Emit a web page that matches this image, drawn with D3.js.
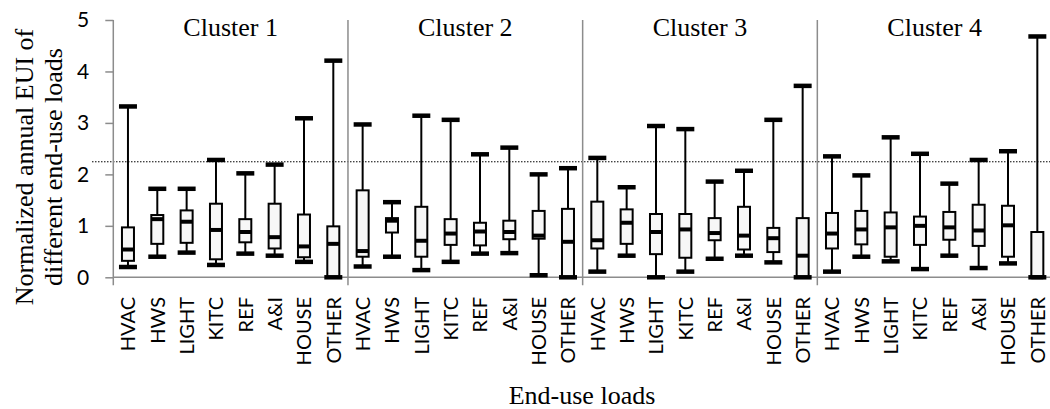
<!DOCTYPE html>
<html><head><meta charset="utf-8">
<script src="https://cdn.jsdelivr.net/npm/d3@7"></script>
<style>html,body{margin:0;padding:0;background:#fff;}svg{display:block;}</style>
</head><body>
<svg id="chart" width="1050" height="409"></svg>
<script>
const clusters = ["Cluster 1", "Cluster 2", "Cluster 3", "Cluster 4"];
const categories = ["HVAC", "HWS", "LIGHT", "KITC", "REF", "A&I", "HOUSE", "OTHER"];
const yTicks = [0, 1, 2, 3, 4, 5];
const refLine = 2.245;
// per cluster, per category
const maxVals = [
  [3.32, 1.72, 1.72, 2.28, 2.02, 2.19, 3.09, 4.21],
  [2.97, 1.46, 3.14, 3.06, 2.39, 2.52, 2.00, 2.12],
  [2.32, 1.75, 2.94, 2.88, 1.86, 2.07, 3.06, 3.72],
  [2.35, 1.98, 2.72, 2.40, 1.82, 2.28, 2.45, 4.68]
];
const q3Vals = [
  [0.97, 1.21, 1.30, 1.43, 1.13, 1.43, 1.22, 0.99],
  [1.69, 1.15, 1.37, 1.13, 1.06, 1.10, 1.29, 1.33],
  [1.47, 1.32, 1.23, 1.23, 1.15, 1.37, 0.96, 1.15],
  [1.25, 1.29, 1.26, 1.18, 1.27, 1.41, 1.39, 0.88]
];
const medVals = [
  [0.54, 1.13, 1.08, 0.92, 0.88, 0.78, 0.60, 0.65],
  [0.51, 1.10, 0.71, 0.85, 0.89, 0.88, 0.81, 0.69],
  [0.72, 1.06, 0.88, 0.93, 0.86, 0.81, 0.76, 0.42],
  [0.85, 0.93, 0.97, 1.00, 0.97, 0.91, 1.01, 0.00]
];
const q1Vals = [
  [0.32, 0.65, 0.67, 0.35, 0.68, 0.56, 0.39, 0.00],
  [0.40, 0.87, 0.40, 0.63, 0.62, 0.74, 0.75, 0.00],
  [0.56, 0.65, 0.45, 0.38, 0.72, 0.54, 0.49, 0.00],
  [0.56, 0.64, 0.40, 0.63, 0.73, 0.61, 0.40, 0.00]
];
const minVals = [
  [0.20, 0.40, 0.48, 0.24, 0.46, 0.42, 0.30, 0.00],
  [0.21, 0.40, 0.14, 0.30, 0.46, 0.47, 0.04, 0.00],
  [0.11, 0.42, 0.00, 0.11, 0.36, 0.42, 0.29, 0.00],
  [0.11, 0.40, 0.31, 0.16, 0.42, 0.18, 0.27, 0.00]
];

const svg = d3.select("#chart");
const plotL = 113.3, plotR = 1052, plotT = 20, plotB = 277.3;
const axisColor = "#8c8c8c";

const xC = d3.scaleBand().domain(clusters).range([plotL, plotR]).padding(0);
const xK = d3.scaleBand().domain(categories).range([0, xC.bandwidth()]).padding(0);
const y = d3.scaleLinear().domain([0, 5]).range([plotB, plotT]);

// reference dotted line
svg.append("line")
  .attr("x1", 92).attr("x2", 1050)
  .attr("y1", y(refLine)).attr("y2", y(refLine))
  .attr("stroke", "#000").attr("stroke-width", 1).attr("stroke-dasharray", "1.5,1.5");

// y axis
const yAxis = d3.axisLeft(y).tickValues(yTicks).tickSize(8).tickPadding(16).tickFormat(d3.format("d"));
const gy = svg.append("g").attr("transform", `translate(${plotL},0)`).call(yAxis);
gy.select(".domain").remove();
gy.selectAll(".tick line").attr("stroke", axisColor).attr("stroke-width", 1.5);
gy.selectAll(".tick text").attr("font-family", "Lato, 'Open Sans', sans-serif").attr("font-size", 21).attr("fill", "#000");
svg.append("line").attr("x1", plotL).attr("x2", plotL).attr("y1", plotT).attr("y2", plotB + 8)
  .attr("stroke", axisColor).attr("stroke-width", 1.5);

// x axis line
svg.append("line").attr("x1", plotL).attr("x2", 1050).attr("y1", plotB).attr("y2", plotB)
  .attr("stroke", axisColor).attr("stroke-width", 1.5);

// cluster separators
clusters.slice(1).forEach(c => {
  svg.append("line").attr("x1", xC(c)).attr("x2", xC(c)).attr("y1", plotT).attr("y2", plotB + 8)
    .attr("stroke", axisColor).attr("stroke-width", 1.5);
});

// cluster titles
svg.selectAll("text.ctitle").data(clusters).enter().append("text")
  .attr("class", "ctitle")
  .attr("x", d => xC(d) + xC.bandwidth() / 2)
  .attr("y", 36)
  .attr("text-anchor", "middle")
  .attr("font-family", "'Liberation Serif', 'Times New Roman', serif")
  .attr("font-size", 26)
  .text(d => d);

const boxW = 12, capW = 18;
clusters.forEach((c, ci) => {
  const g = svg.append("g").attr("transform", `translate(${xC(c)},0)`);
  categories.forEach((k, ki) => {
    const cx = xK(k) + xK.bandwidth() / 2;
    const mx = maxVals[ci][ki], q3 = q3Vals[ci][ki], md = medVals[ci][ki], q1 = q1Vals[ci][ki], mn = minVals[ci][ki];
    g.append("line").attr("x1", cx).attr("x2", cx).attr("y1", y(mx)).attr("y2", y(q3))
      .attr("stroke", "#000").attr("stroke-width", 2);
    g.append("line").attr("x1", cx).attr("x2", cx).attr("y1", y(q1)).attr("y2", y(mn))
      .attr("stroke", "#000").attr("stroke-width", 2);
    g.append("rect").attr("x", cx - boxW / 2).attr("width", boxW)
      .attr("y", y(q3)).attr("height", Math.max(0, y(q1) - y(q3)))
      .attr("fill", "#f7f7f7").attr("stroke", "#000").attr("stroke-width", 2);
    g.append("line").attr("x1", cx - boxW / 2).attr("x2", cx + boxW / 2).attr("y1", y(md)).attr("y2", y(md))
      .attr("stroke", "#000").attr("stroke-width", 4);
    [mx, mn].forEach(v => {
      g.append("line").attr("x1", cx - capW / 2).attr("x2", cx + capW / 2).attr("y1", y(v)).attr("y2", y(v))
        .attr("stroke", "#000").attr("stroke-width", 4.5);
    });
    g.append("text")
      .attr("transform", `translate(${cx},297) rotate(-90)`)
      .attr("dy", "0.36em")
      .attr("text-anchor", "end")
      .attr("font-family", "Lato, 'Open Sans', sans-serif")
      .attr("font-size", 20)
      .text(k);
  });
});

// axis titles
svg.append("text").attr("x", 582).attr("y", 404).attr("text-anchor", "middle")
  .attr("font-family", "'Liberation Serif', 'Times New Roman', serif").attr("font-size", 26)
  .text("End-use loads");
const yt = svg.append("text").attr("transform", "translate(33,167) rotate(-90)")
  .attr("text-anchor", "middle")
  .attr("font-family", "'Liberation Serif', 'Times New Roman', serif").attr("font-size", 26);
yt.append("tspan").attr("x", 0).attr("y", 0).text("Normalized annual EUI of");
yt.append("tspan").attr("x", 0).attr("y", 29).text("different end-use loads");
</script>
</body></html>
